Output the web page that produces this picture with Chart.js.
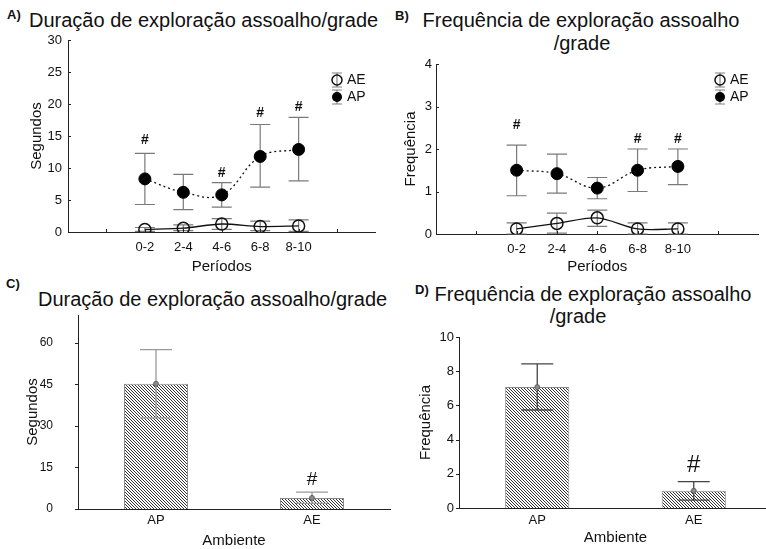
<!DOCTYPE html>
<html lang="pt">
<head>
<meta charset="utf-8">
<script src="https://cdn.jsdelivr.net/npm/chart.js@4.4.1/dist/chart.umd.min.js"></script>
<style>
  html, body { margin: 0; padding: 0; background: #fff; }
  body { width: 766px; height: 549px; position: relative; overflow: hidden;
         font-family: "Liberation Sans", Arial, sans-serif; color: #111; }
  canvas { position: absolute; }
  .lbl { position: absolute; font-weight: bold; font-size: 13px; line-height: 13px; }
  .ttl { position: absolute; font-size: 20px; line-height: 20px; white-space: nowrap; }
  .ctr { width: 400px; text-align: center; }
</style>
</head>
<body>
<div class="lbl" style="left:7px;top:8px">A)</div>
<div class="ttl" style="left:29px;top:10px">Duração de exploração assoalho/grade</div>
<div class="lbl" style="left:395px;top:9px">B)</div>
<div class="ttl ctr" style="left:381px;top:10px">Frequência de exploração assoalho</div>
<div class="ttl ctr" style="left:382px;top:33px">/grade</div>
<div class="lbl" style="left:6px;top:277px">C)</div>
<div class="ttl" style="left:38px;top:289px">Duração de exploração assoalho/grade</div>
<div class="lbl" style="left:415px;top:283px">D)</div>
<div class="ttl ctr" style="left:393px;top:284px">Frequência de exploração assoalho</div>
<div class="ttl ctr" style="left:378px;top:306px">/grade</div>

<canvas id="chartA" width="383" height="280" style="left:0;top:0"></canvas>
<canvas id="chartB" width="383" height="280" style="left:383px;top:0"></canvas>
<canvas id="chartC" width="400" height="272" style="left:0;top:280px"></canvas>
<canvas id="chartD" width="389" height="272" style="left:383px;top:280px"></canvas>

<script>
// periods (x categories of A and B)
const periods = ["0-2", "2-4", "4-6", "6-8", "8-10"];

// A) duration per period, seconds
const durAP = [8.3, 6.2, 5.8, 11.8, 12.9];
const durAPLo = [4.3, 3.5, 3.9, 7.0, 8.0];
const durAPHi = [12.3, 9.0, 7.7, 16.8, 17.9];
const durAE = [0.4, 0.6, 1.25, 0.85, 0.95];
const durAELo = [0.1, 0.2, 0.4, 0.2, 0.1];
const durAEHi = [0.7, 1.1, 2.1, 1.7, 1.9];
const durSig = [14.4, null, 9.2, 18.6, 19.5];
const durTicks = [0, 5, 10, 15, 20, 25, 30];

// B) frequency per period
const freqAP = [1.5, 1.42, 1.08, 1.5, 1.59];
const freqAPLo = [0.9, 0.96, 0.83, 1.0, 1.16];
const freqAPHi = [2.09, 1.88, 1.33, 2.0, 2.0];
const freqAE = [0.12, 0.25, 0.38, 0.12, 0.12];
const freqAELo = [0.0, 0.02, 0.18, 0.0, 0.0];
const freqAEHi = [0.26, 0.49, 0.56, 0.26, 0.26];
const freqSig = [2.55, null, null, 2.24, 2.24];
const freqTicks = [0, 1, 2, 3, 4];

// C) and D) totals per ambiente
const ambientes = ["AP", "AE"];
const durTotal = [45.2, 4.0];
const durTotalLo = [32.9, 2.0];
const durTotalHi = [57.5, 6.1];
const durTotalSig = [null, 10.5];
const durTotalTicks = [0, 15, 30, 45, 60];

const freqTotal = [7.07, 1.01];
const freqTotalLo = [5.73, 0.46];
const freqTotalHi = [8.43, 1.54];
const freqTotalSig = [null, 2.5];
const freqTotalTicks = [0, 2, 4, 6, 8, 10];

const FONT = '"Liberation Sans", Arial, sans-serif';
Chart.defaults.font.family = FONT;
Chart.defaults.color = "#111";

function toXY(values) {
    return values.map(function (v, i) { return { x: i, y: v }; });
}

function hatchPattern() {
    const c = document.createElement("canvas");
    c.width = 3; c.height = 3;
    const g = c.getContext("2d");
    g.fillStyle = "#fff";
    g.fillRect(0, 0, 3, 3);
    g.strokeStyle = "#333";
    g.lineWidth = 1;
    g.beginPath();
    g.moveTo(-1, -1); g.lineTo(4, 4);
    g.moveTo(-1, 2); g.lineTo(1, 4);
    g.moveTo(2, -1); g.lineTo(4, 1);
    g.stroke();
    return g.createPattern(c, "repeat");
}

function drawErrors(chart) {
    const ctx = chart.ctx, ys = chart.scales.y;
    chart.data.datasets.forEach(function (ds, i) {
        if (!ds.errLo) return;
        const meta = chart.getDatasetMeta(i);
        const half = ds.capWidth / 2;
        ctx.save();
        ctx.strokeStyle = ds.errColor;
        ctx.lineWidth = ds.errWidth;
        meta.data.forEach(function (el, j) {
            const x = el.x;
            const lo = ys.getPixelForValue(ds.errLo[j]);
            const hi = ys.getPixelForValue(ds.errHi[j]);
            ctx.beginPath();
            ctx.moveTo(x, lo); ctx.lineTo(x, hi);
            ctx.moveTo(x - half, lo); ctx.lineTo(x + half, lo);
            ctx.moveTo(x - half, hi); ctx.lineTo(x + half, hi);
            ctx.stroke();
            if (ds.meanDot) {
                ctx.beginPath();
                ctx.arc(x, ys.getPixelForValue(ds.data[j]), 2.5, 0, Math.PI * 2);
                ctx.fillStyle = "#8a8a8a";
                ctx.fill();
                ctx.strokeStyle = "#555";
                ctx.lineWidth = 0.8;
                ctx.stroke();
                ctx.strokeStyle = ds.errColor;
                ctx.lineWidth = ds.errWidth;
            }
        });
        ctx.restore();
    });
}

const errorBarPlugin = {
    id: "errorBars",
    beforeDatasetsDraw(chart) {
        if (chart.config.type === "line") drawErrors(chart);
    },
    afterDatasetsDraw(chart) {
        if (chart.config.type === "bar") drawErrors(chart);
    }
};

const sigPlugin = {
    id: "sigMarks",
    afterDatasetsDraw(chart, args, opts) {
        if (!opts.values) return;
        const ctx = chart.ctx, xs = chart.scales.x, ys = chart.scales.y;
        ctx.save();
        ctx.font = opts.font;
        ctx.fillStyle = "#111";
        ctx.textAlign = "center";
        ctx.textBaseline = "middle";
        opts.values.forEach(function (v, i) {
            if (v === null) return;
            ctx.fillText("#", xs.getPixelForValue(i), ys.getPixelForValue(v));
        });
        ctx.restore();
    }
};

const tickMarkPlugin = {
    id: "tickMarks",
    afterDraw(chart, args, opts) {
        const ctx = chart.ctx, area = chart.chartArea, ys = chart.scales.y, xs = chart.scales.x;
        const dir = opts.inward ? 1 : -1, len = opts.len || 3;
        ctx.save();
        ctx.strokeStyle = "#222";
        ctx.lineWidth = 1;
        ctx.beginPath();
        ys.ticks.forEach(function (t) {
            const y = Math.round(ys.getPixelForValue(t.value)) + 0.5;
            ctx.moveTo(area.left, y);
            ctx.lineTo(area.left + dir * len, y);
        });
        (opts.xMarks || []).forEach(function (v) {
            const x = Math.round(xs.getPixelForValue(v)) + 0.5;
            ctx.moveTo(x, area.bottom);
            ctx.lineTo(x, area.bottom - dir * len);
        });
        ctx.stroke();
        ctx.restore();
    }
};

const symLegendPlugin = {
    id: "symLegend",
    afterDraw(chart, args, opts) {
        if (!opts.rows) return;
        const ctx = chart.ctx, x = opts.x;
        ctx.save();
        ctx.font = "14px " + FONT;
        ctx.textBaseline = "middle";
        chart.data.datasets.forEach(function (ds, i) {
            const y = opts.rows[i];
            ctx.strokeStyle = "#808080";
            ctx.lineWidth = 1.2;
            ctx.beginPath();
            ctx.moveTo(x, y - 7); ctx.lineTo(x, y + 7);
            ctx.moveTo(x - 5, y - 7); ctx.lineTo(x + 5, y - 7);
            ctx.moveTo(x - 5, y + 7); ctx.lineTo(x + 5, y + 7);
            ctx.stroke();
            ctx.beginPath();
            ctx.arc(x, y, 5, 0, Math.PI * 2);
            if (ds.pointBackgroundColor === "#000") {
                ctx.fillStyle = "#000";
                ctx.fill();
            } else {
                ctx.strokeStyle = "#111";
                ctx.lineWidth = 1.5;
                ctx.stroke();
            }
            ctx.fillStyle = "#111";
            ctx.fillText(ds.label, x + 10, y);
        });
        ctx.restore();
    }
};

function lineChart(id, cfg) {
    return new Chart(document.getElementById(id), {
        type: "line",
        data: {
            datasets: [{
                label: "AE",
                data: toXY(cfg.ae),
                errLo: cfg.aeLo, errHi: cfg.aeHi,
                errColor: "#7a7a7a", errWidth: 1.2, capWidth: 20,
                borderColor: "#111", borderWidth: 1.3, tension: 0.3,
                pointRadius: 6, pointBorderWidth: 1.5,
                pointBorderColor: "#111", pointBackgroundColor: "rgba(0,0,0,0)"
            }, {
                label: "AP",
                data: toXY(cfg.ap),
                errLo: cfg.apLo, errHi: cfg.apHi,
                errColor: "#7a7a7a", errWidth: 1.2, capWidth: 20,
                borderColor: "#111", borderWidth: 1.3, borderDash: [2, 3], tension: 0.4,
                pointRadius: 6, pointBorderWidth: 1,
                pointBorderColor: "#000", pointBackgroundColor: "#000"
            }]
        },
        options: {
            responsive: false,
            animation: false,
            layout: { padding: cfg.padding },
            scales: {
                x: {
                    type: "linear", min: -2, max: 6,
                    afterBuildTicks: function (s) { s.ticks = periods.map(function (p, i) { return { value: i }; }); },
                    afterFit: function (s) { s.height = cfg.xHeight; },
                    grid: { display: false, drawTicks: false },
                    border: { color: "#222", width: 1 },
                    ticks: { autoSkip: false, maxRotation: 0, padding: 8, font: { size: 13 },
                             callback: function (v) { return periods[Math.round(v)]; } },
                    title: { display: true, text: "Períodos", font: { size: 15 }, padding: { top: 0, bottom: 4 } }
                },
                y: {
                    min: 0, max: cfg.max,
                    afterBuildTicks: function (s) { s.ticks = cfg.ticks.map(function (v) { return { value: v }; }); },
                    afterFit: function (s) { s.width = cfg.yWidth; },
                    grid: { display: false, drawTicks: false },
                    border: { color: "#222", width: 1 },
                    ticks: { padding: cfg.yPad, font: { size: 13 } },
                    title: { display: true, text: cfg.yTitle, font: { size: 15 }, padding: { top: cfg.yTitlePad, bottom: 0 } }
                }
            },
            plugins: {
                legend: { display: false },
                tooltip: { enabled: false },
                sigMarks: { values: cfg.sig, font: "bold 14px " + FONT },
                tickMarks: { inward: true, len: 3, xMarks: [-1, 0, 1, 2, 3, 4, 5] },
                symLegend: { x: 337, rows: [80, 97] }
            }
        },
        plugins: [errorBarPlugin, sigPlugin, tickMarkPlugin, symLegendPlugin]
    });
}

function barChart(id, cfg) {
    return new Chart(document.getElementById(id), {
        type: "bar",
        data: {
            labels: ambientes,
            datasets: [{
                data: cfg.values,
                errLo: cfg.lo, errHi: cfg.hi,
                errColor: cfg.errColor, errWidth: 1.3, capWidth: 32, meanDot: true,
                backgroundColor: hatchPattern(),
                borderColor: "#8a8a8a", borderWidth: 1,
                barPercentage: 0.41, categoryPercentage: 1
            }]
        },
        options: {
            responsive: false,
            animation: false,
            layout: { padding: cfg.padding },
            scales: {
                x: {
                    afterFit: function (s) { s.height = cfg.xHeight; },
                    grid: { display: false, drawTicks: false },
                    border: { color: "#222", width: 1, z: 1 },
                    ticks: { padding: cfg.xPad, font: { size: 13 } },
                    title: { display: true, text: "Ambiente", font: { size: 15 }, padding: { top: 0, bottom: cfg.xTitlePad } }
                },
                y: {
                    min: 0, max: cfg.max,
                    afterBuildTicks: function (s) { s.ticks = cfg.ticks.map(function (v) { return { value: v }; }); },
                    afterFit: function (s) { s.width = cfg.yWidth; },
                    grid: { display: false, drawTicks: false },
                    border: { color: "#222", width: 1 },
                    ticks: { padding: cfg.yPad, font: { size: cfg.yFont } },
                    title: { display: true, text: cfg.yTitle, font: { size: 15 }, padding: { top: cfg.yTitlePad, bottom: 0 } }
                }
            },
            plugins: {
                legend: { display: false },
                tooltip: { enabled: false },
                sigMarks: { values: cfg.sig, font: cfg.sigFont },
                tickMarks: { inward: false, len: 3 }
            }
        },
        plugins: [errorBarPlugin, sigPlugin, tickMarkPlugin]
    });
}

lineChart("chartA", {
    ae: durAE, aeLo: durAELo, aeHi: durAEHi,
    ap: durAP, apLo: durAPLo, apHi: durAPHi,
    sig: durSig, ticks: durTicks, max: 30, yTitle: "Segundos",
    padding: { top: 40, right: 1, left: 0, bottom: 0 },
    xHeight: 48, yWidth: 68, yPad: 6, yTitlePad: 28
});

lineChart("chartB", {
    ae: freqAE, aeLo: freqAELo, aeHi: freqAEHi,
    ap: freqAP, apLo: freqAPLo, apHi: freqAPHi,
    sig: freqSig, ticks: freqTicks, max: 4, yTitle: "Frequência",
    padding: { top: 64, right: 6, left: 0, bottom: 0 },
    xHeight: 46, yWidth: 53, yPad: 4, yTitlePad: 19
});

barChart("chartC", {
    values: durTotal, lo: durTotalLo, hi: durTotalHi, errColor: "#9a9a9a",
    sig: durTotalSig, sigFont: "19px " + FONT,
    ticks: durTotalTicks, max: 70, yTitle: "Segundos",
    padding: { top: 35, right: 10, left: 0, bottom: 0 },
    xHeight: 43, yWidth: 78, xPad: 4, xTitlePad: 2, yPad: 25, yTitlePad: 24, yFont: 12
});

barChart("chartD", {
    values: freqTotal, lo: freqTotalLo, hi: freqTotalHi, errColor: "#444",
    sig: freqTotalSig, sigFont: "24px " + FONT,
    ticks: freqTotalTicks, max: 10, yTitle: "Frequência",
    padding: { top: 57, right: 0, left: 0, bottom: 0 },
    xHeight: 44, yWidth: 76, xPad: 5, xTitlePad: 5, yPad: 5, yTitlePad: 34, yFont: 13
});
</script>
</body>
</html>
